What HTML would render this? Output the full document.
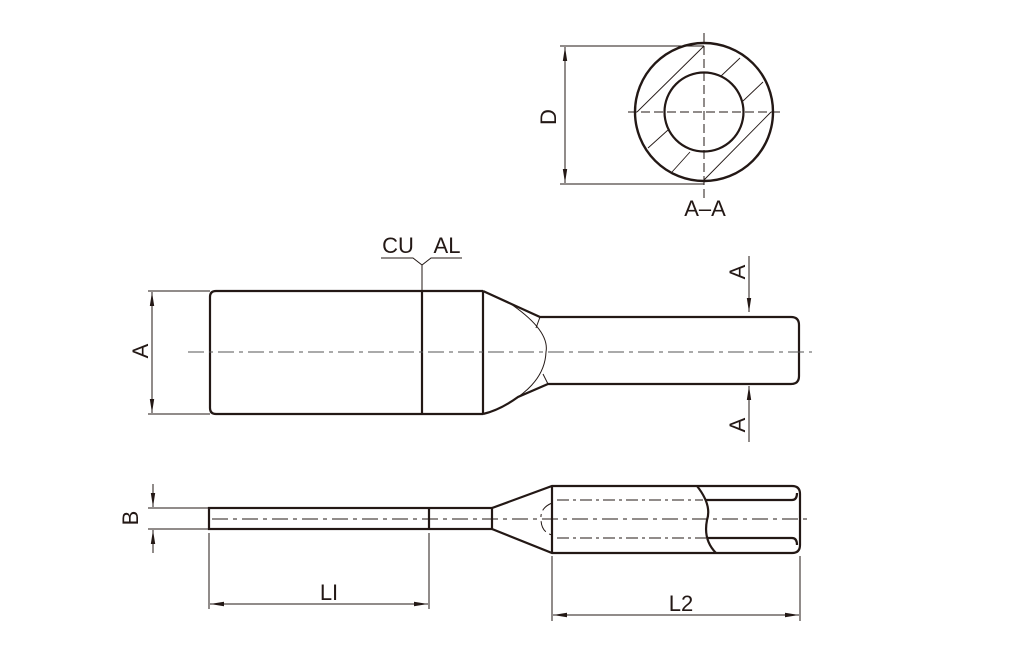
<!DOCTYPE html>
<html><head><meta charset="utf-8"><style>
html,body{margin:0;padding:0;background:#fff;}
svg{display:block;}
text{font-family:"Liberation Sans",sans-serif;fill:#231815;}
</style></head><body>
<svg width="1035" height="660" viewBox="0 0 1035 660" xmlns="http://www.w3.org/2000/svg">
<defs>
<marker id="ar" viewBox="0 0 14 6" refX="14" refY="3" markerWidth="14" markerHeight="6" orient="auto-start-reverse" markerUnits="userSpaceOnUse">
<path d="M0,0.8 L14,3 L0,5.2 Z" fill="#231815"/></marker>
</defs>
<g stroke="#231815" fill="none">
<!-- Section A-A -->
<g stroke-width="1">
<line x1="560" y1="46" x2="704" y2="46"/>
<line x1="560" y1="184" x2="704" y2="184"/>
<line x1="565" y1="47" x2="565" y2="183" marker-start="url(#ar)" marker-end="url(#ar)"/>
</g>
<g stroke-width="0.9">
<line x1="637" y1="112" x2="704" y2="46"/>
<line x1="704" y1="180" x2="771" y2="112"/>
<line x1="720" y1="77" x2="740" y2="58"/>
<line x1="743" y1="101" x2="763" y2="82"/>
<line x1="648" y1="148" x2="668" y2="130"/>
<line x1="672" y1="172" x2="690" y2="152"/>
</g>
<circle cx="704" cy="112" r="69" stroke-width="2.4"/>
<circle cx="704" cy="112" r="39.5" stroke-width="2.2" fill="#fff"/>
<g stroke-width="1" stroke-dasharray="9,4">
<line x1="704" y1="33" x2="704" y2="200"/>
<line x1="628" y1="112" x2="781" y2="112"/>
</g>

<!-- Top view -->
<g stroke-width="1">
<line x1="148" y1="291" x2="210" y2="291"/>
<line x1="148" y1="414" x2="210" y2="414"/>
<line x1="152" y1="292" x2="152" y2="413" marker-start="url(#ar)" marker-end="url(#ar)"/>
<polyline points="381,258 413,258 422,265 431,258 462,258"/>
<line x1="422" y1="265" x2="422" y2="291"/>
<line x1="749" y1="256" x2="749" y2="312" marker-end="url(#ar)"/>
<line x1="749" y1="442" x2="749" y2="386" marker-end="url(#ar)"/>
</g>
<g stroke-width="2.2">
<path d="M483,291 L216,291 Q210,291 210,297 L210,408 Q210,414 216,414 L483,414"/>
<line x1="422" y1="291" x2="422" y2="414"/>
<line x1="483" y1="291" x2="483" y2="414"/>
<path d="M483,291 L540,317 L791,317 Q799,317 799,325 L799,376 Q799,384 791,384 L548,384 L518,397 Q500,410 483,414"/>
</g>
<g stroke-width="1">
<path d="M508,302 Q550,330 546,352 Q545,378 518,397"/>
<line x1="540" y1="317" x2="536" y2="328"/>
<line x1="548" y1="384" x2="543" y2="374"/>
</g>
<line x1="188" y1="352" x2="812" y2="352" stroke-width="1" stroke="#555" stroke-dasharray="16,5,4,5"/>

<!-- Bottom view -->
<g stroke-width="1">
<line x1="148" y1="508" x2="210" y2="508"/>
<line x1="148" y1="529" x2="210" y2="529"/>
<line x1="153" y1="484" x2="153" y2="507" marker-end="url(#ar)"/>
<line x1="153" y1="553" x2="153" y2="530" marker-end="url(#ar)"/>
<line x1="209" y1="533" x2="209" y2="609"/>
<line x1="429" y1="533" x2="429" y2="609"/>
<line x1="210" y1="604" x2="428" y2="604" marker-start="url(#ar)" marker-end="url(#ar)"/>
<line x1="552" y1="556" x2="552" y2="621"/>
<line x1="800" y1="556" x2="800" y2="621"/>
<line x1="553" y1="615" x2="799" y2="615" marker-start="url(#ar)" marker-end="url(#ar)"/>
</g>
<g stroke-width="2.2">
<rect x="209" y="508" width="283" height="21"/>
<line x1="429" y1="508" x2="429" y2="529"/>
<path d="M492,508 L552,486 L792,486 Q800,486 800,494 L800,545 Q800,553 792,553 L552,553 L492,529"/>
<line x1="552" y1="486" x2="552" y2="553"/>
<path d="M697,486 Q712,505 707,520 Q703,540 716,553"/>
<path d="M705,500 L792,500 Q797,500 797,493"/>
<path d="M707,538 L792,538 Q797,538 797,545"/>
</g>
<g stroke-width="1" stroke-dasharray="12,4,3,4">
<path d="M557,500 L703,500"/>
<path d="M557,538 L706,538"/>
<path d="M552,503 Q540,508 541,519 Q541,532 552,535"/>
</g>
<line x1="212" y1="519" x2="812" y2="519" stroke-width="1" stroke-dasharray="16,5,4,5"/>
</g>
<g font-size="22">
<text x="705" y="216" text-anchor="middle">A–A</text>
<text x="398" y="253" text-anchor="middle">CU</text>
<text x="447" y="253" text-anchor="middle">AL</text>
<text x="329" y="600" text-anchor="middle">LI</text>
<text x="681" y="611" text-anchor="middle">L2</text>
<text transform="translate(556,117) rotate(-90)" text-anchor="middle">D</text>
<text transform="translate(148,351) rotate(-90)" text-anchor="middle">A</text>
<text transform="translate(138,518) rotate(-90)" text-anchor="middle">B</text>
<text transform="translate(745,272) rotate(-90)" text-anchor="middle">A</text>
<text transform="translate(745,425) rotate(-90)" text-anchor="middle">A</text>
</g>
</svg>
</body></html>
